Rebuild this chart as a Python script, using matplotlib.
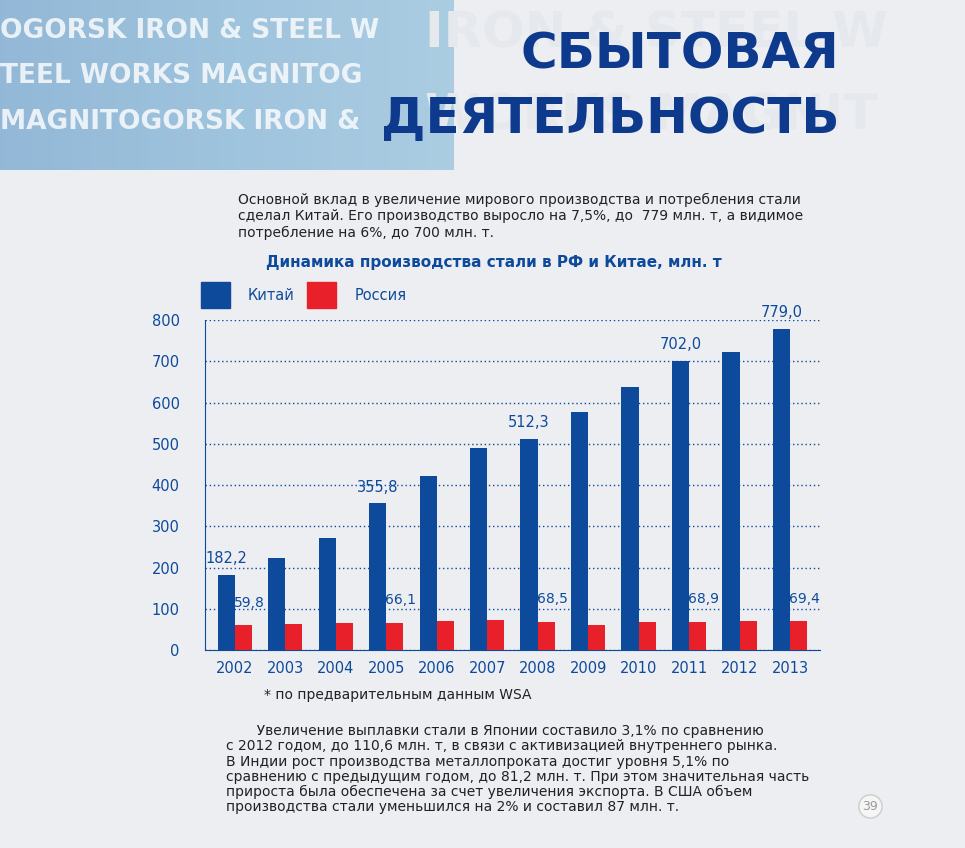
import matplotlib.pyplot as plt
import numpy as np

years = ['2002', '2003', '2004', '2005', '2006', '2007', '2008', '2009', '2010', '2011', '2012', '2013']
china = [182.2, 222, 272, 355.8, 421, 489, 512.3, 577, 639, 702.0, 723, 779.0]
russia = [59.8, 62.4, 65.6, 66.1, 70.8, 72.4, 68.5, 60.0, 66.9, 68.9, 70.4, 69.4]
china_lbl = {0: '182,2', 3: '355,8', 6: '512,3', 9: '702,0', 11: '779,0'}
russia_lbl = {0: '59,8', 3: '66,1', 6: '68,5', 9: '68,9', 11: '69,4'}

BLUE = '#0e4a9c'
RED = '#e8202a'
DARK = '#0d3a8c'
BG = '#eceef1'

fig = plt.figure(figsize=(9.65, 8.48), dpi=100, facecolor=BG)

# header band
hdr = fig.add_axes([0, 0.80, 1, 0.20])
hdr.set_xlim(0, 1); hdr.set_ylim(0, 1); hdr.axis('off')
hdr.imshow(np.linspace(0.6, 1, 100)[None, :] * np.ones((10, 1)), cmap='Blues_r', vmin=0, vmax=2.2,
           extent=[0, 0.47, 0, 1], aspect='auto', alpha=0.45)
for y, t in [(0.82, 'OGORSK IRON & STEEL W'), (0.55, 'TEEL WORKS MAGNITOG'), (0.28, 'MAGNITOGORSK IRON &')]:
    hdr.text(0.0, y, t, fontsize=19, fontweight='bold', color='white', alpha=0.8, va='center')
hdr.text(0.44, 0.80, 'IRON & STEEL W', fontsize=36, fontweight='bold', color='#e5e8ed', va='center',
         clip_on=True)
hdr.text(0.44, 0.32, 'WORKS MAGNIT', fontsize=36, fontweight='bold', color='#e5e8ed', va='center',
         clip_on=True)
hdr.text(0.87, 0.68, 'СБЫТОВАЯ', fontsize=36, fontweight='bold', color=DARK, ha='right', va='center')
hdr.text(0.87, 0.30, 'ДЕЯТЕЛЬНОСТЬ', fontsize=36, fontweight='bold', color=DARK, ha='right', va='center')

fig.text(0.247, 0.745, 'Основной вклад в увеличение мирового производства и потребления стали\n'
         'сделал Китай. Его производство выросло на 7,5%, до  779 млн. т, а видимое\n'
         'потребление на 6%, до 700 млн. т.', fontsize=10, color='#222222', va='center', linespacing=1.2)
fig.text(0.512, 0.69, 'Динамика производства стали в РФ и Китае, млн. т', fontsize=11,
         fontweight='bold', color=BLUE, ha='center', va='center')

ax = fig.add_axes([0.212, 0.2335, 0.638, 0.389])
ax.set_facecolor(BG)
x = np.arange(len(years))
w = 0.34
ax.bar(x - w / 2, china, w, color=BLUE, zorder=3)
ax.bar(x + w / 2, russia, w, color=RED, zorder=3)
for i, t in china_lbl.items():
    ax.text(x[i] - w / 2, china[i] + 28, t, color=BLUE, fontsize=10.5, ha='center', clip_on=False, zorder=5)
for i, t in russia_lbl.items():
    ax.text(x[i] - 0.02, russia[i] + 55, t, color=BLUE, fontsize=10, ha='left', va='center', zorder=5)
ax.set_ylim(0, 800)
ax.set_xlim(-0.6, 11.6)
ax.set_yticks(range(0, 801, 100))
ax.yaxis.grid(True, linestyle=(0, (1, 2)), color=BLUE, lw=1, zorder=0)
ax.set_xticks(x)
ax.set_xticklabels(years)
ax.tick_params(colors=BLUE, labelsize=10.5, length=0)
ax.tick_params(axis='y', pad=18)
ax.tick_params(axis='x', pad=8)
for s in ['top', 'right']:
    ax.spines[s].set_visible(False)
ax.spines['left'].set_color(BLUE)
ax.spines['bottom'].set_color(BLUE)

# legend
fig.patches.append(plt.Rectangle((0.208, 0.637), 0.03, 0.03, color=BLUE, transform=fig.transFigure))
fig.text(0.257, 0.651, 'Китай', color=BLUE, fontsize=10.5, va='center')
fig.patches.append(plt.Rectangle((0.318, 0.637), 0.03, 0.03, color=RED, transform=fig.transFigure))
fig.text(0.367, 0.651, 'Россия', color=BLUE, fontsize=10.5, va='center')

fig.text(0.274, 0.180, '* по предварительным данным WSA', fontsize=10, color='#222222', va='center')
fig.text(0.234, 0.093, '       Увеличение выплавки стали в Японии составило 3,1% по сравнению\n'
         'с 2012 годом, до 110,6 млн. т, в связи с активизацией внутреннего рынка.\n'
         'В Индии рост производства металлопроката достиг уровня 5,1% по\n'
         'сравнению с предыдущим годом, до 81,2 млн. т. При этом значительная часть\n'
         'прироста была обеспечена за счет увеличения экспорта. В США объем\n'
         'производства стали уменьшился на 2% и составил 87 млн. т.',
         fontsize=10, color='#222222', va='center', linespacing=1.1)
fig.text(0.902, 0.049, '39', fontsize=9, color='#999999', ha='center', va='center',
         bbox=dict(boxstyle='circle', fc='#f5f5f5', ec='#cccccc'))

fig.savefig('out.png', dpi=100, facecolor=BG)
